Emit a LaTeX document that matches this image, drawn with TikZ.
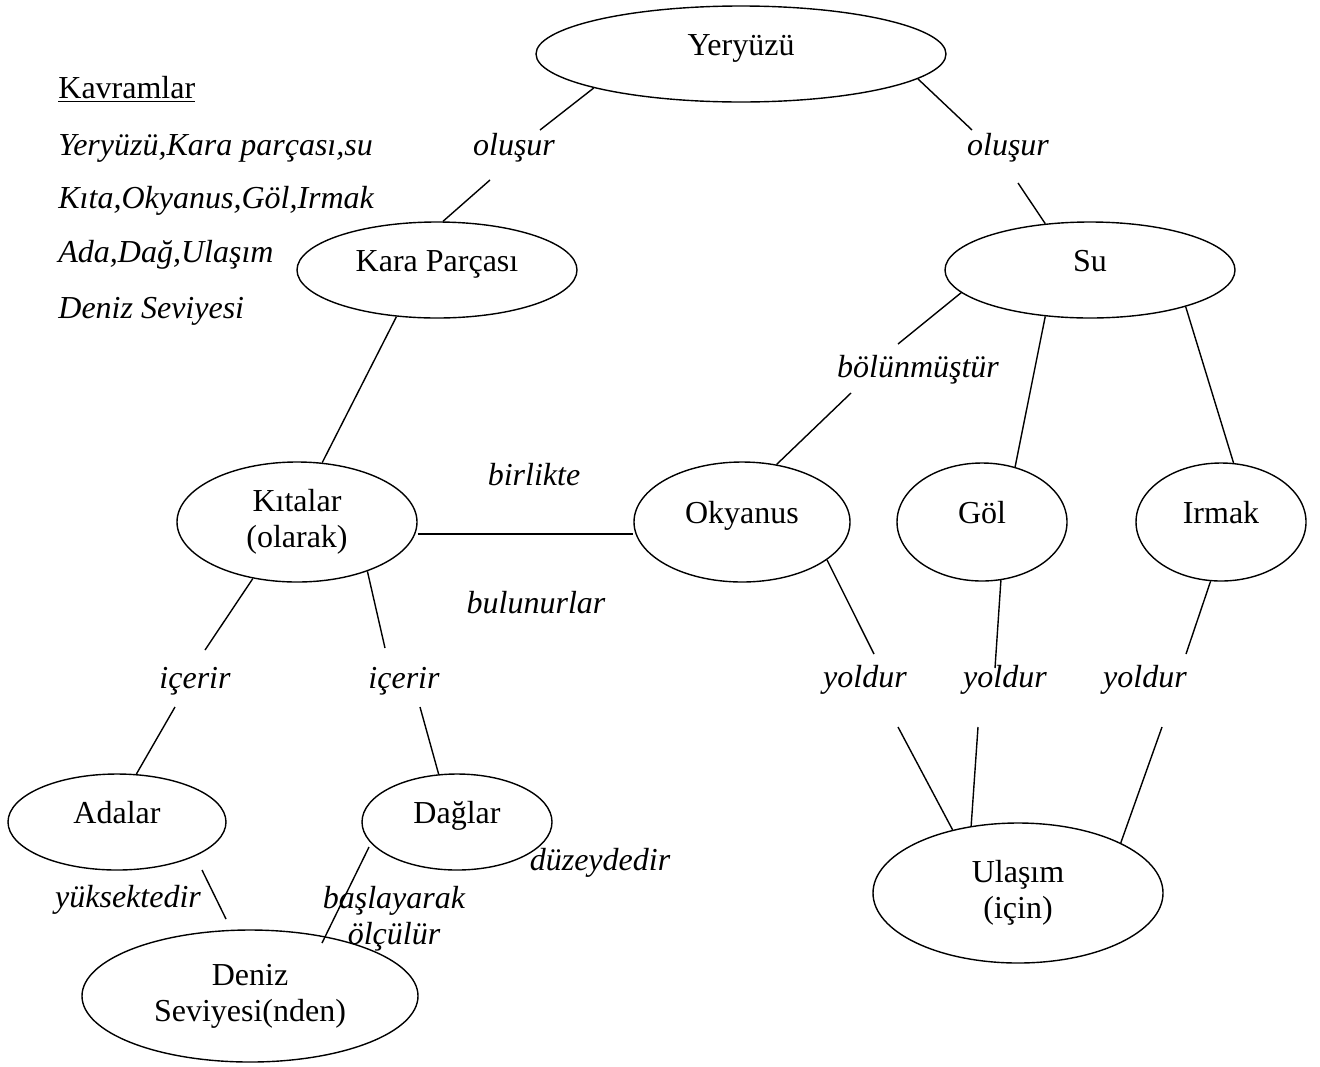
\documentclass[tikz,border=0pt]{standalone}
\usepackage{fontspec}
\setmainfont{Liberation Serif}
\usetikzlibrary{shapes.geometric, calc}
\tikzset{
  every node/.style={font=\fontsize{16}{18}\selectfont},
  % concept ellipses
  kavram/.style={draw, ellipse, line width=0.7pt, inner sep=0pt, align=center},
  tek/.style={kavram, text height=11pt, text depth=10pt},
  % linking words
  baglac/.style={font=\fontsize{16}{18}\selectfont\itshape, anchor=base, inner sep=0pt},
  liste/.style={font=\fontsize{16}{18}\selectfont\itshape, anchor=base west, inner sep=0pt},
  cizgi/.style={line width=0.7pt},
}
\begin{document}
\begin{tikzpicture}[x=0.5pt, y=-0.5pt]
\useasboundingbox (0,0) rectangle (1320,1066);

% concept list (top left)
\node[anchor=base west, inner sep=0pt] (baslik) at (58,98) {\underline{Kavramlar}};
\node[liste] (l1) at (58,155) {Yeryüzü,Kara parçası,su};
\node[liste] (l2) at (58,208) {Kıta,Okyanus,Göl,Irmak};
\node[liste] (l3) at (58,262) {Ada,Dağ,Ulaşım};
\node[liste] (l4) at (58,318) {Deniz Seviyesi};

% concepts
\node[tek, minimum width=205pt, minimum height=48pt] (yer)   at (741,54)  {Yeryüzü};
\node[tek, minimum width=140pt, minimum height=48pt] (kara)  at (437,270) {Kara Parçası};
\node[tek, minimum width=145pt, minimum height=48pt] (su)    at (1090,270) {Su};
\node[kavram, minimum width=120pt, minimum height=60pt] (kita) at (297,522) {Kıtalar\\(olarak)};
\node[tek, minimum width=108pt, minimum height=60pt] (okya)  at (742,522) {Okyanus};
\node[tek, minimum width=85pt, minimum height=59pt]  (gol)   at (982,522) {Göl};
\node[tek, minimum width=85pt, minimum height=59pt]  (irmak) at (1221,522) {Irmak};
\node[tek, minimum width=109pt, minimum height=48pt] (ada)   at (117,822) {Adalar};
\node[tek, minimum width=95pt, minimum height=48pt]  (dag)   at (457,822) {Dağlar};
\node[kavram, minimum width=168pt, minimum height=66pt] (deniz) at (250,996) {Deniz\\Seviyesi(nden)};
\node[kavram, minimum width=145pt, minimum height=70pt] (ulas)  at (1018,893) {Ulaşım\\(için)};

% linking words
\node[baglac] (olus1)   at (514,155)  {oluşur};
\node[baglac] (olus2)   at (1008,155) {oluşur};
\node[baglac] (bolun)   at (918,377)  {bölünmüştür};
\node[baglac] (birlik)  at (534,485)  {birlikte};
\node[baglac] (bulun)   at (536,613)  {bulunurlar};
\node[baglac] (icerir1) at (195,688)  {içerir};
\node[baglac] (icerir2) at (404,688)  {içerir};
\node[baglac] (yol1)    at (865,687)  {yoldur};
\node[baglac] (yol2)    at (1005,687) {yoldur};
\node[baglac] (yol3)    at (1145,687) {yoldur};
\node[baglac] (yuksek)  at (128,907)  {yüksektedir};
\node[baglac, anchor=north, align=center] (baslay) at (394,886) {başlayarak\\ölçülür};
\node[baglac] (duzey)   at (600,870)  {düzeydedir};

% connectors
\draw[cizgi] (yer.193) -- ($(olus1.base)+(26,-25)$);
\draw[cizgi] ($(olus1.base)+(-24,25)$) -- (kara.83);
\draw[cizgi] (yer.352) -- ($(olus2.base)+(-36,-25)$);
\draw[cizgi] ($(olus2.base)+(10,28)$) -- (su.134);
\draw[cizgi] (kara.229) -- (kita.67);
\draw[cizgi] (su.190) -- ($(bolun.base)+(-20,-33)$);
\draw[cizgi] ($(bolun.base)+(-67,16)$) -- (okya.59);
\draw[cizgi] (su.226) -- (gol.59);
\draw[cizgi] (su.339) -- (irmak.78);
\draw[cizgi] ([yshift=-6pt]kita.east) -- ([yshift=-6pt]okya.west);
\draw[cizgi] (kita.232) -- ($(icerir1.base)+(10,-38)$);
\draw[cizgi] ($(icerir1.base)+(-20,19)$) -- (ada.68);
\draw[cizgi] (kita.325) -- ($(icerir2.base)+(-19,-40)$);
\draw[cizgi] ($(icerir2.base)+(16,19)$) -- (dag.111);
\draw[cizgi] (okya.336) -- ($(yol1.base)+(9,-33)$);
\draw[cizgi] ($(yol1.base)+(33,40)$) -- (ulas.136);
\draw[cizgi] (gol.288) -- ($(yol2.base)+(-10,-19)$);
\draw[cizgi] ($(yol2.base)+(-27,40)$) -- (ulas.125);
\draw[cizgi] (irmak.260) -- ($(yol3.base)+(41,-33)$);
\draw[cizgi] ($(yol3.base)+(17,40)$) -- (ulas.26);
\draw[cizgi] ($(ada)+(85,48)$) -- ($(deniz)+(-24,-77)$);
\draw[cizgi] ($(dag)+(-88,25)$) -- ($(deniz)+(72,-53)$);

\end{tikzpicture}
\end{document}
